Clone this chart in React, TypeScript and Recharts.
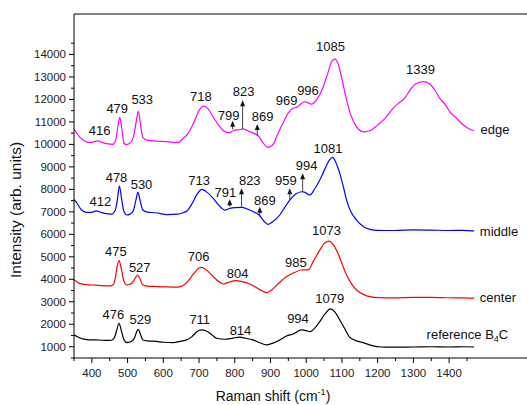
import { LineChart, Line, XAxis, YAxis, ReferenceDot, ReferenceLine } from 'recharts';

// Raman shift (cm-1) and intensity for each spectrum
const edgeShift = [350, 365, 380, 395, 405, 416, 428, 445, 458, 466, 472, 478, 484, 490, 497, 506, 516, 524, 530, 536, 543, 555, 580, 610, 640, 655, 670, 685, 700, 712, 724, 740, 755, 770, 785, 797, 810, 823, 840, 855, 866, 878, 892, 905, 920, 935, 950, 962, 975, 985, 995, 1005, 1015, 1030, 1045, 1060, 1072, 1080, 1090, 1100, 1112, 1125, 1140, 1160, 1180, 1200, 1220, 1243, 1260, 1275, 1290, 1305, 1327, 1345, 1360, 1374, 1390, 1402, 1420, 1435, 1450, 1463, 1470];
const edgeIntensity = [10680, 10350, 10150, 10080, 10110, 10160, 10090, 10020, 10000, 10150, 10700, 11200, 10700, 10050, 9990, 10050, 10300, 11000, 11480, 10900, 10300, 10190, 10150, 10120, 10080, 10250, 10500, 10950, 11500, 11700, 11600, 11200, 10850, 10600, 10520, 10620, 10650, 10680, 10580, 10480, 10380, 10100, 9870, 9950, 10450, 10950, 11400, 11600, 11660, 11800, 11890, 11850, 11790, 12000, 12450, 13150, 13700, 13790, 13550, 12900, 12050, 11300, 10800, 10560, 10620, 10870, 11150, 11600, 11850, 12050, 12400, 12680, 12790, 12700, 12420, 12050, 11750, 11450, 11180, 10930, 10750, 10640, 10620];

const middleShift = [350, 360, 371, 385, 400, 412, 425, 440, 455, 465, 471, 477, 483, 490, 498, 507, 516, 523, 529, 535, 543, 555, 580, 610, 640, 655, 667, 680, 695, 708, 720, 740, 755, 772, 785, 800, 820, 842, 858, 868, 880, 893, 905, 926, 940, 954, 970, 987, 995, 1010, 1025, 1038, 1052, 1065, 1074, 1083, 1094, 1105, 1113, 1125, 1141, 1160, 1178, 1200, 1250, 1300, 1350, 1400, 1440, 1470];
const middleIntensity = [7550, 7350, 7080, 6980, 6980, 7040, 6980, 6920, 6900, 7050, 7500, 8150, 7600, 7000, 6860, 6900, 7050, 7500, 7870, 7500, 7080, 6990, 6960, 6880, 6900, 6960, 7050, 7350, 7800, 8000, 7900, 7600, 7300, 7080, 7150, 7190, 7200, 7080, 6960, 6860, 6620, 6445, 6550, 6860, 7200, 7525, 7780, 7894, 7880, 7750, 8050, 8414, 8900, 9300, 9420, 9200, 8711, 8050, 7525, 7000, 6636, 6350, 6223, 6180, 6170, 6200, 6190, 6170, 6180, 6150];

const centerShift = [350, 365, 385, 410, 430, 450, 460, 466, 471, 476, 482, 489, 497, 507, 516, 523, 528, 534, 542, 555, 580, 610, 640, 655, 668, 685, 700, 708, 720, 740, 755, 768, 785, 801, 820, 842, 860, 875, 890, 905, 926, 945, 963, 987, 1005, 1020, 1038, 1052, 1064, 1075, 1089, 1100, 1113, 1127, 1141, 1160, 1178, 1206, 1250, 1300, 1350, 1400, 1440, 1470];
const centerIntensity = [3980, 3820, 3760, 3740, 3720, 3710, 3760, 4100, 4600, 4830, 4500, 3950, 3750, 3780, 3900, 4100, 4190, 4050, 3760, 3700, 3680, 3660, 3650, 3720, 3900, 4250, 4500, 4530, 4420, 4116, 3900, 3792, 3880, 3940, 3900, 3792, 3640, 3500, 3406, 3550, 3870, 4120, 4267, 4414, 4420, 4800, 5300, 5620, 5700, 5550, 5156, 4700, 4192, 3800, 3525, 3330, 3228, 3183, 3170, 3200, 3200, 3180, 3170, 3160];

const refShift = [350, 365, 385, 404, 420, 440, 455, 463, 469, 476, 482, 489, 498, 508, 518, 525, 530, 536, 543, 555, 580, 600, 627, 650, 665, 680, 695, 707, 720, 735, 749, 772, 795, 814, 830, 851, 870, 888, 905, 926, 945, 963, 987, 1000, 1010, 1025, 1038, 1052, 1068, 1080, 1094, 1108, 1122, 1135, 1159, 1187, 1210, 1234, 1300, 1350, 1400, 1440, 1470];
const refIntensity = [1530, 1400, 1320, 1304, 1300, 1280, 1290, 1400, 1700, 2045, 1750, 1350, 1184, 1220, 1350, 1650, 1779, 1550, 1300, 1260, 1240, 1200, 1184, 1250, 1304, 1450, 1680, 1748, 1700, 1550, 1380, 1335, 1380, 1425, 1380, 1304, 1180, 1082, 1150, 1304, 1480, 1570, 1748, 1720, 1673, 1850, 2117, 2450, 2681, 2550, 2192, 1800, 1420, 1300, 1184, 1037, 990, 980, 990, 1000, 990, 1000, 990];

const xTicks = [350, 400, 450, 500, 550, 600, 650, 700, 750, 800, 850, 900, 950, 1000, 1050, 1100, 1150, 1200, 1250, 1300, 1350, 1400, 1450];
const yTicks = [500, 1000, 1500, 2000, 2500, 3000, 3500, 4000, 4500, 5000, 5500, 6000, 6500, 7000, 7500, 8000, 8500, 9000, 9500, 10000, 10500, 11000, 11500, 12000, 12500, 13000, 13500, 14000, 14500];

// peak labels: [shift, intensity, text]
const peakLabels: [number, number, string][] = [
  [422, 10605, '416'], [471, 11600, '479'], [541, 12014, '533'], [705, 12116, '718'], [783, 11302, '799'],
  [825, 12338, '823'], [878, 11227, '869'], [945, 11969, '969'], [1005, 12413, '996'], [1068, 14369, '1085'], [1320, 13333, '1339'],
  [424, 7450, '412'], [469, 8534, '478'], [539, 8236, '530'], [700, 8414, '713'], [774, 7867, '791'],
  [842, 8414, '823'], [884, 7494, '869'], [943, 8383, '959'], [1001, 9080, '994'], [1061, 9823, '1081'],
  [467, 5227, '475'], [534, 4534, '527'], [699, 5005, '706'], [808, 4267, '804'], [971, 4739, '985'], [1057, 6161, '1073'],
  [460, 2414, '476'], [536, 2192, '529'], [702, 2192, '711'], [816, 1717, '814'], [977, 2268, '994'], [1066, 3157, '1079'],
];

// arrows: [shift, from intensity, to intensity]
const arrows: [number, number, number][] = [
  [794, 10667, 11049], [822, 10680, 11969], [863, 10369, 10902],
  [786, 7227, 7556], [819, 7183, 8045], [870, 6858, 7227], [954, 7525, 8045], [990, 7894, 8712],
];

const seriesNames: [number, number, string][] = [
  [1488, 10667, 'edge'], [1486, 6116, 'middle'], [1486, 3183, 'center'],
];

const toPoints = (xs: number[], ys: number[]) => xs.map((x, i) => ({ x, y: ys[i] }));

const FONT = '"Liberation Sans", Arial, sans-serif';

const XTick = ({ x, y, payload }: any) => {
  const major = payload.value % 100 === 0;
  return (
    <g>
      <line x1={x} y1={y} x2={x} y2={y + (major ? 5 : 3)} stroke="#000" />
      {major && (
        <text x={x} y={y + 19} textAnchor="middle" fontSize={11.5} fontFamily={FONT} fill="#222">
          {payload.value}
        </text>
      )}
    </g>
  );
};

const YTick = ({ x, y, payload }: any) => {
  const major = payload.value % 1000 === 0;
  return (
    <g>
      <line x1={x} y1={y} x2={x - (major ? 5 : 3)} y2={y} stroke="#000" />
      {major && (
        <text x={x - 8} y={y + 4} textAnchor="end" fontSize={11.5} fontFamily={FONT} fill="#222">
          {payload.value}
        </text>
      )}
    </g>
  );
};

const Arrow = (p: any) => {
  const { x1, y1, x2, y2 } = p;
  return (
    <g>
      <line x1={x1} y1={y1} x2={x2} y2={y2 + 5} stroke="#444" strokeWidth={1} />
      <path d={`M${x2},${y2} L${x2 - 2.5},${y2 + 6} L${x2 + 2.5},${y2 + 6} Z`} fill="#111" />
    </g>
  );
};

export default function App() {
  return (
    <div style={{ position: 'absolute', left: 0, top: 0, width: 527, height: 405, background: '#fff' }}>
      <LineChart width={527} height={405} margin={{ top: 14, right: 0, bottom: 0, left: 0 }}>
        <XAxis
          dataKey="x"
          type="number"
          domain={[350, 1618]}
          allowDataOverflow
          ticks={xTicks}
          interval={0}
          tickSize={0}
          tickMargin={0}
          tickLine={false}
          tick={<XTick />}
          height={47}
          axisLine={{ stroke: '#000' }}
        />
        <YAxis
          type="number"
          domain={[500, 15800]}
          allowDataOverflow
          ticks={yTicks}
          interval={0}
          tickSize={0}
          tickMargin={0}
          tickLine={false}
          tick={<YTick />}
          width={74}
          axisLine={{ stroke: '#000' }}
        />
        <ReferenceLine y={15800} stroke="#000" />
        <Line data={toPoints(refShift, refIntensity)} dataKey="y" type="monotone" stroke="#000000" strokeWidth={1.2} dot={false} isAnimationActive={false} />
        <Line data={toPoints(centerShift, centerIntensity)} dataKey="y" type="monotone" stroke="#ff0000" strokeWidth={1.2} dot={false} isAnimationActive={false} />
        <Line data={toPoints(middleShift, middleIntensity)} dataKey="y" type="monotone" stroke="#0000ff" strokeWidth={1.2} dot={false} isAnimationActive={false} />
        <Line data={toPoints(edgeShift, edgeIntensity)} dataKey="y" type="monotone" stroke="#ff00ff" strokeWidth={1.2} dot={false} isAnimationActive={false} />
        {arrows.map(([x, y0, y1], i) => (
          <ReferenceLine key={'a' + i} segment={[{ x, y: y0 }, { x, y: y1 }]} shape={<Arrow />} />
        ))}
        {peakLabels.map(([x, y, t], i) => (
          <ReferenceDot
            key={'p' + i}
            x={x}
            y={y}
            r={0}
            shape={(p: any) => (
              <text x={p.cx} y={p.cy + 4.5} textAnchor="middle" fontSize={13} fontFamily={FONT} fill="#111">
                {t}
              </text>
            )}
          />
        ))}
        {seriesNames.map(([x, y, t], i) => (
          <ReferenceDot
            key={'s' + i}
            x={x}
            y={y}
            r={0}
            shape={(p: any) => (
              <text x={p.cx} y={p.cy + 4.5} textAnchor="start" fontSize={13} fontFamily={FONT} fill="#111">
                {t}
              </text>
            )}
          />
        ))}
        <ReferenceDot
          x={1337}
          y={1526}
          r={0}
          shape={(p: any) => (
            <text x={p.cx} y={p.cy + 4.5} textAnchor="start" fontSize={13} fontFamily={FONT} fill="#111">
              reference B<tspan fontSize={9} dy={3}>4</tspan><tspan dy={-3}>C</tspan>
            </text>
          )}
        />
      </LineChart>
      <svg width={527} height={405} style={{ position: 'absolute', left: 0, top: 0, pointerEvents: 'none' }}>
        <text x={273} y={401} textAnchor="middle" fontSize={14} fontFamily={FONT} fill="#111">
          Raman shift (cm<tspan fontSize={9} dy={-6}>-1</tspan><tspan dy={6}>)</tspan>
        </text>
        <text x={21} y={210} transform="rotate(-90 21 210)" textAnchor="middle" fontSize={15.5} fontFamily={FONT} fill="#111">
          Intensity (arb. units)
        </text>
      </svg>
    </div>
  );
}
